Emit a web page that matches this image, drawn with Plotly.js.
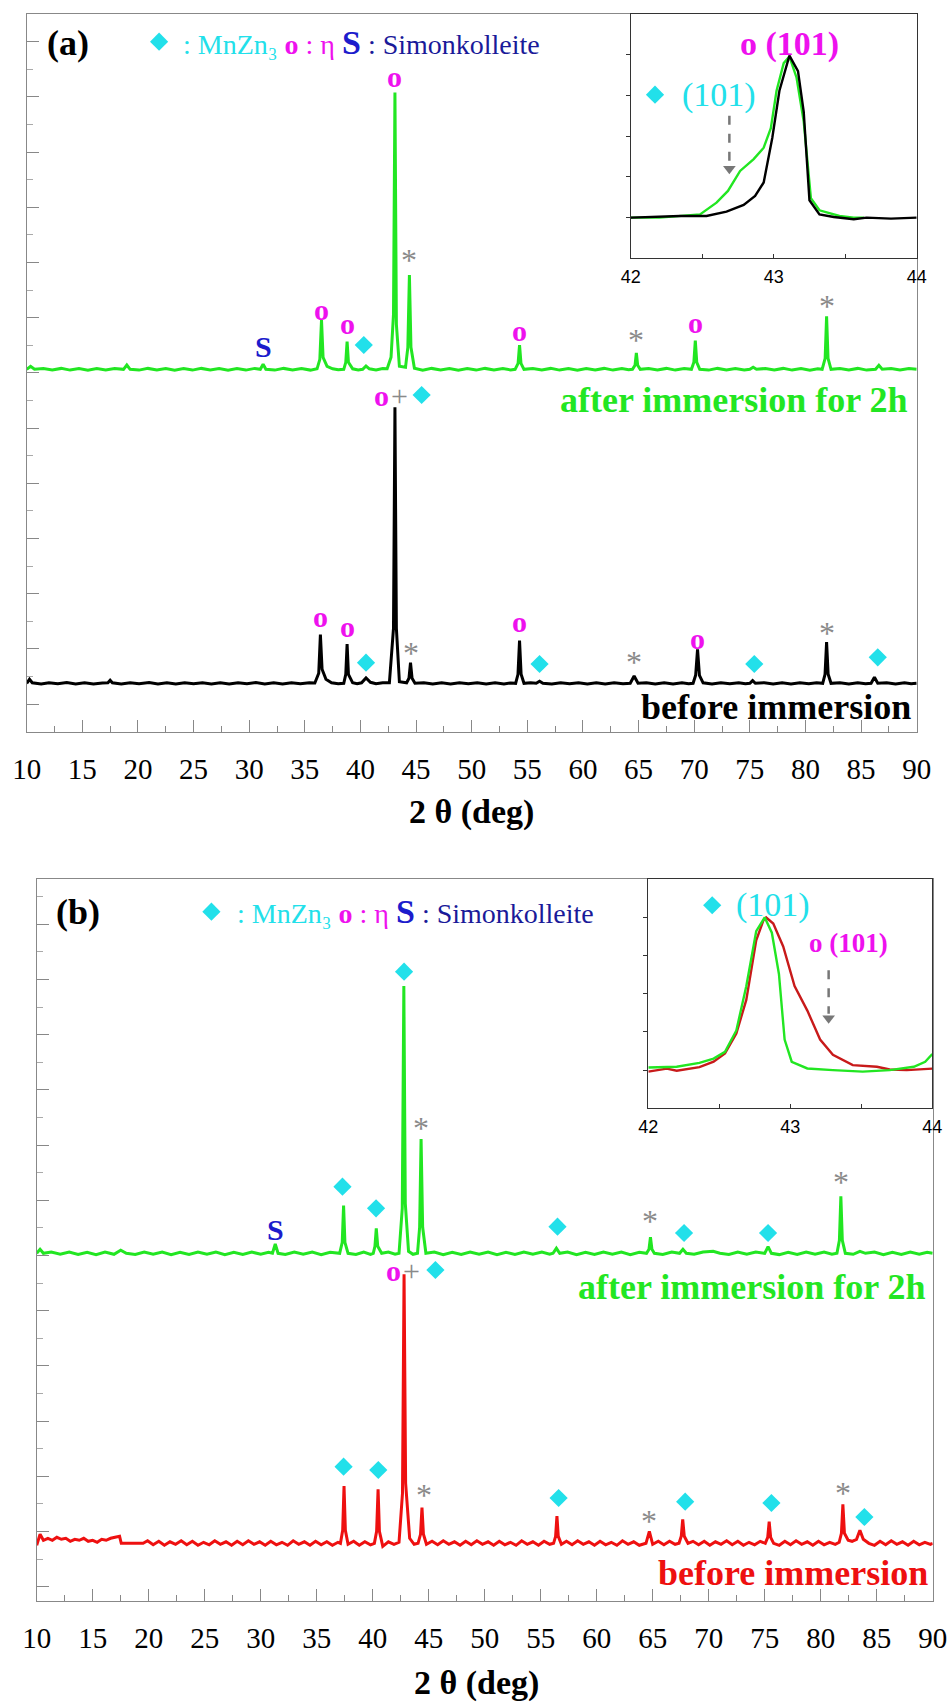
<!DOCTYPE html>
<html><head><meta charset="utf-8">
<script src="https://cdn.plot.ly/plotly-3.0.1.min.js"></script>
<style>body{margin:0;background:#fff}#chart{width:951px;height:1702px}</style>
</head><body><div id="chart"></div>
<script>
// ---------- Panel (a) : before immersion (black), intensity above baseline ----------
const A_BLACK_X = [10,10.25,10.5,11.3,12,12.8,13.6,14.4,15.2,16,16.8,17.3,17.5,17.7,18.5,19.3,20.1,21,21.8,22.6,23.4,24.2,25,25.8,26.6,27.4,28.2,29,29.8,30.6,31.4,32.2,33,33.8,34.6,35.4,35.9,36.25,36.4,36.55,36.9,37.4,38.0,38.5,38.68,38.8,38.92,39.3,39.7,40.1,40.5,40.9,41.4,42.0,42.6,42.97,43.1,43.23,43.5,44.15,44.36,44.5,44.64,44.9,45.7,46.5,47.3,48.1,48.9,49.7,50.5,51.3,52.1,52.9,53.5,53.95,54.16,54.3,54.44,54.7,55.3,55.8,56.1,56.4,57.2,58,58.8,59.6,60.4,61.2,62,62.8,63.6,64.25,64.6,64.95,65.7,66.5,67.3,68.1,68.9,69.5,69.9,70.13,70.3,70.47,70.8,71.6,72.4,73.2,74,74.6,75.0,75.25,75.5,76.3,77.1,77.9,78.7,79.5,80.3,81,81.55,81.76,81.9,82.04,82.3,83.1,83.9,84.7,85.4,85.9,86.2,86.5,87.3,88.1,88.9,89.5,90];
const A_BLACK_I = [0,4,0.5,-0.8,0.6,-0.5,0.7,-0.6,0.5,-0.7,0.4,0.5,3,0.5,-0.6,0.6,-0.5,0.7,-0.6,0.5,-0.7,0.6,-0.5,0.6,-0.6,0.5,-0.7,0.6,-0.5,0.7,-0.6,0.5,-0.6,0.6,-0.5,0.5,0.3,10,48.7,14,4,0.5,-0.5,0,9,39.3,9,0.5,-0.5,0.5,5.3,1,-0.5,0.6,0.5,55,276,55,1.5,0.5,5,20.7,5,0,0.6,-0.6,0.5,-0.6,0.6,-0.5,0.6,-0.6,0.5,-0.6,0.4,0,9,42.7,9,0,0.5,0,2,0,-0.6,0.6,-0.5,0.6,-0.6,0.5,-0.6,0.6,-0.5,0,7.3,0,0.6,-0.6,0.5,-0.6,0.6,-0.4,0,8,34,8,0.5,-0.6,0.6,-0.5,0.6,-0.5,0,2.7,0,0.6,-0.6,0.5,-0.6,0.6,-0.5,0.5,0,9,41.3,9,0,0.6,-0.6,0.5,-0.5,0,6,0,0.6,-0.6,0.5,-0.5,0];
// ---------- Panel (a) : after immersion for 2h (green) ----------
const A_GREEN_X = [10,10.35,10.7,11.5,12.3,13.1,13.9,14.7,15.5,16.3,17.1,17.9,18.7,19.0,19.3,20.1,20.9,21.7,22.5,23.3,24.1,24.9,25.7,26.5,27.3,28.1,28.9,29.7,30.5,31.0,31.25,31.5,32.3,33.1,33.9,34.7,35.5,36.1,36.35,36.5,36.64,37.0,37.5,38.0,38.5,38.68,38.8,38.92,39.3,39.8,40.2,40.5,40.8,41.4,42.0,42.4,42.75,42.97,43.1,43.23,43.5,44.05,44.26,44.4,44.54,44.85,45.6,46.4,47.2,48,48.8,49.6,50.4,51.2,52,52.8,53.5,53.9,54.17,54.3,54.43,54.7,55.5,56.3,57.1,57.9,58.7,59.5,60.3,61.1,61.9,62.7,63.5,64.1,64.45,64.68,64.8,64.92,65.15,65.9,66.7,67.5,68.3,69.1,69.75,69.97,70.1,70.23,70.5,71.3,72.1,72.9,73.7,74.5,75.0,75.3,75.6,76.4,77.2,78,78.8,79.6,80.4,81.1,81.5,81.77,81.9,82.03,82.3,83.1,83.9,84.7,85.5,86.3,86.6,86.9,87.7,88.5,89.3,90];
const A_GREEN_I = [0,3,0,0.8,-0.7,0.9,-0.8,0.7,-0.9,0.8,-0.7,0.9,0,4.3,0,-0.8,0.9,-0.7,0.8,-0.9,0.7,-0.8,0.9,-0.7,0.8,-0.9,0.7,-0.8,0.9,0,5,0,-0.8,0.9,-0.7,0.8,-0.8,0.5,10,49.3,12,3,0.5,-0.5,0,7,27.7,7,0.5,-0.6,0,3.3,0.5,-0.6,0.7,0.5,12,55,276.7,45,3,2,22,94.3,22,1,-0.8,0.9,-0.7,0.8,-0.9,0.7,-0.8,0.9,-0.7,0.8,-0.6,0,6,24.3,6,0,0.8,-0.7,0.9,-0.8,0.7,-0.9,0.8,-0.7,0.9,-0.8,0.7,-0.5,0,4,16.5,4,0,0.8,-0.7,0.9,-0.8,0.7,0,7,28.6,7,0,-0.8,0.9,-0.7,0.8,-0.6,0,2,0,0.8,-0.7,0.9,-0.8,0.7,-0.9,0.5,0,11,53,11,0,0.8,-0.7,0.9,-0.8,0,4,0,0.8,-0.7,0.9,0];
// ---------- Panel (b) : before immersion (red) ----------
const B_RED_X = [10.0,10.3,10.6,11.0,11.4,11.8,12.2,12.6,13.0,13.4,13.8,14.2,14.6,15.0,15.4,15.8,16.2,16.6,17.0,17.4,17.55,19.5,19.9,20.4,20.9,21.4,21.9,22.4,22.9,23.4,23.9,24.4,24.9,25.4,25.9,26.4,26.9,27.4,27.9,28.4,28.9,29.4,29.9,30.4,30.9,31.4,31.9,32.4,32.9,33.4,33.9,34.4,34.9,35.4,35.9,36.4,36.9,37.12,37.32,37.44,37.56,37.8,38.3,38.8,39.3,39.8,40.15,40.35,40.48,40.6,40.9,41.4,41.9,42.35,42.66,42.8,42.94,43.3,43.7,44.05,44.27,44.4,44.53,44.8,45.3,45.8,46.3,46.8,47.3,47.8,48.3,48.8,49.3,49.8,50.3,50.8,51.3,51.8,52.3,52.8,53.3,53.8,54.3,54.8,55.3,55.8,56.15,56.33,56.45,56.57,56.85,57.3,57.8,58.3,58.8,59.3,59.8,60.3,60.8,61.3,61.8,62.3,62.8,63.3,63.8,64.4,64.7,65.0,65.5,66.0,66.5,67.0,67.35,67.55,67.68,67.82,68.15,68.6,69.1,69.6,70.1,70.6,71.1,71.6,72.1,72.6,73.1,73.6,74.1,74.6,75.05,75.27,75.4,75.53,75.8,76.3,76.8,77.3,77.8,78.3,78.8,79.3,79.8,80.3,80.8,81.3,81.65,81.85,81.98,82.12,82.45,82.8,83.2,83.5,83.8,84.3,84.8,85.3,85.8,86.3,86.8,87.3,87.8,88.3,88.8,89.3,89.8,90];
const B_RED_I = [-2,9,3,5,3,6,4,5,2,4,3,5,2,3,1,4,3,5,6,7,0,0,2.5,-1.5,2,-2,1.5,-1,2.5,-1.5,2,-2,1,-1.5,2.5,-1,1.5,-2,2,-1.5,2.5,-1,1.5,-2,2,-1.5,1,-2,2.5,-1,1.5,-2,2,-1.5,1.5,-2,1,0,13,57.3,13,-1,2,-2,1.5,-1.5,0,12,54,12,-3,1.5,-1,1,50,269,60,5,-1,0,9,35.7,9,-1,2,-1.5,2.5,-1,1.5,-2,2,-1.5,2.5,-1,1.5,-2,2,-1.5,1,-2,2.5,-1,1.5,-2,2,-1,0,7,27.3,7,-1,2,-1.5,2.5,-1,1.5,-2,2,-1.5,1,-2,2.5,-1,1.5,-2,0,12,-1,2,-1.5,2,-1,0,7,24,7,0,2,-1.5,2,-2,1.5,-1,2.5,-1.5,2,-2,1,-1.5,2,0,6,21.7,6,0,-2,2,-1.5,2.5,-1,1.5,-2,2,-1.5,1,-1,1,10,39,10,3,2,4,13,4,0,-2,2,-1.5,2.5,-1,1.5,-2,2,-1.5,1,-1,0];
// ---------- Panel (b) : after immersion for 2h (green) ----------
const B_GREEN_X = [10,10.3,10.6,11.3,12.1,12.9,13.7,14.5,15.3,16.1,16.9,17.5,18,18.8,19.6,20.4,21.2,22,22.8,23.6,24.4,25.2,26,26.8,27.6,28.4,29.2,30,30.7,31.05,31.3,31.55,32.2,33,33.8,34.6,35.4,36.2,37.05,37.28,37.4,37.52,37.8,38.5,39.2,39.8,40.05,40.2,40.32,40.45,40.8,41.4,42.0,42.35,42.64,42.78,42.91,43.2,43.6,44.0,44.19,44.32,44.46,44.75,45.5,46.3,47.1,47.9,48.7,49.5,50.3,51.1,51.9,52.7,53.5,54.3,55.1,55.8,56.1,56.4,56.7,57.4,58.2,59,59.8,60.6,61.4,62.2,63,63.8,64.45,64.67,64.8,64.93,65.15,65.9,66.7,67.4,67.7,68,68.7,69.5,70.4,71,71.8,72.6,73.4,74.2,75.0,75.3,75.6,76.3,77.1,77.9,78.7,79.5,80.3,81.0,81.45,81.67,81.8,81.93,82.2,82.9,83.5,84,84.8,85.6,86.4,87.2,88,88.8,89.5,90];
const B_GREEN_I = [0,4,0,1.2,-1,1.3,-1.2,1,-1.3,1.2,-1,3,0,-1.2,1.3,-1,1.2,-1.3,1,-1.2,1.3,-1,1.2,-1.3,1,-1.2,1.3,-1,1,0,9.3,0,-1.2,1.3,-1,1.2,-1.3,1,0,11,47.7,11,0,-1.2,1.3,-1,0,7,25,7,0,1.2,-1,0,45,267.3,50,2,-1,0,26,114.3,26,0,1.2,-1.3,1,-1.2,1.3,-1,1.2,-1.3,1,-1.2,1.3,-1,1.2,-1,0,5,0,1.2,-1.3,1,-1.2,1.3,-1,1.2,-1.3,1,0,4,16,4,0,-1.2,1.3,0,4,0,-1,1.2,2,0,-1.2,1.3,-1,1.2,0,6.7,0,-1.3,1,-1.2,1.3,-1,1.2,-1,0,13,57,13,0,-1,2,0,1.2,-1.3,1,-1.2,1.3,-1,1,0];

// ---------- Insets (normalised intensity vs 2θ, 42–44°) ----------
const INA_BLACK_X = [42.0,42.345,42.53,42.67,42.79,42.87,42.93,42.99,43.04,43.08,43.11,43.17,43.21,43.25,43.32,43.42,43.56,43.65,43.82,44.0];
const INA_BLACK_Y = [0,0.01,0.01,0.037,0.078,0.133,0.216,0.49,0.78,0.91,0.996,0.90,0.65,0.107,0.02,0.004,-0.01,0,-0.006,0];
const INA_GREEN_X = [42.0,42.2,42.485,42.6,42.68,42.765,42.86,42.93,42.98,43.02,43.07,43.11,43.16,43.21,43.26,43.32,43.46,43.56,43.63];
const INA_GREEN_Y = [0,0,0.02,0.092,0.164,0.287,0.36,0.43,0.55,0.78,0.95,0.99,0.86,0.59,0.12,0.045,0.01,0,0];
const INB_RED_X = [42.0,42.13,42.2,42.36,42.46,42.54,42.62,42.69,42.76,42.81,42.83,42.88,42.95,43.03,43.12,43.21,43.30,43.44,43.61,43.70,43.82,44.0];
const INB_RED_Y = [-0.01,0.01,-0.004,0.02,0.055,0.11,0.24,0.46,0.85,0.98,1.0,0.96,0.81,0.55,0.39,0.2,0.1,0.033,0.022,0.004,0,0.01];
const INB_GREEN_X = [42.0,42.2,42.36,42.46,42.54,42.62,42.69,42.76,42.82,42.87,42.92,42.96,43.01,43.12,43.30,43.51,43.70,43.87,43.95,44.0];
const INB_GREEN_Y = [0.017,0.022,0.048,0.076,0.12,0.26,0.55,0.91,1.0,0.9,0.63,0.2,0.055,0.011,0,-0.01,0,0.022,0.055,0.105];

// ---------- Peak labels [2θ, level] ----------
const A_ETA = [[36.4,115],[38.8,105],[54.3,110],[70.3,93.4],[36.5,422.4],[38.8,408.4],[43.1,655.7],[54.3,401],[70.1,409.7],[41.9,336.7]];
const A_MNZN = [[40.5,69],[56.1,67.7],[75.4,67.7],[86.5,74.4],[40.3,386.7],[45.5,336.7]];
const A_STAR = [[44.5,85],[64.6,75.7],[81.9,105],[44.4,477.7],[64.8,397.7],[81.9,431.7]];
const A_PLUS = [[43.5,336.7]];
const A_SIMON = [[31.3,385]];
const B_ETA = [[41.9,330.7]];
const B_MNZN = [[37.4,134],[40.5,130.7],[56.6,102.7],[67.9,99],[75.6,97.7],[83.9,83.7],[45.6,330.7],[37.3,414],[40.3,392.4],[42.8,629],[56.5,374],[67.8,367.7],[75.3,367.7]];
const B_STAR = [[44.6,111.7],[64.7,85.7],[82,114],[44.3,479],[64.8,385.7],[81.8,424.7]];
const B_PLUS = [[43.5,330.7]];
const B_SIMON = [[31.3,371.4]];
const X_TICKS = [10,15,20,25,30,35,40,45,50,55,60,65,70,75,80,85,90];

// ---------- styling / layout constants ----------
const W = 951, H = 1702;
const OFF = {aBlack:48.4, aGreen:362.4, bRed:57.4, bGreen:347.4};
const C = {green:'#22e622', black:'#000000', red:'#ee1010', red2:'#c81a1a', cyan:'#22e0ea', mag:'#ee11ee', gray:'#8a8a8a', blue:'#1c1ccc', navy:'#1a1a99'};
const SERIF = 'Liberation Serif, Times New Roman, serif';
const SANS = 'Liberation Sans, Arial, sans-serif';
const px = (v) => v / W;
const py = (v) => 1 - v / H;

function add(arr, c) { return arr.map(v => v + c); }
function line(x, y, xa, ya, color, w) {
  return {type:'scatter', mode:'lines', x:x, y:y, xaxis:xa, yaxis:ya, line:{color:color, width:w}, hoverinfo:'skip'};
}
function diamonds(list, xa, ya) {
  return {type:'scatter', mode:'markers', x:list.map(p=>p[0]), y:list.map(p=>p[1]), xaxis:xa, yaxis:ya,
    marker:{symbol:'diamond', size:14, color:C.cyan, line:{width:0}}, hoverinfo:'skip'};
}
function txt(xr, yr, x, y, text, size, color, extra) {
  return Object.assign({xref:xr, yref:yr, x:x, y:y, text:text, showarrow:false,
    font:{family:SERIF, size:size, color:color}, xanchor:'center', yanchor:'middle'}, extra || {});
}

const traces = [
  line(A_BLACK_X, add(A_BLACK_I, OFF.aBlack), 'x', 'y', C.black, 3),
  line(A_GREEN_X, add(A_GREEN_I, OFF.aGreen), 'x', 'y', C.green, 3),
  line(INA_GREEN_X, INA_GREEN_Y, 'x2', 'y2', C.green, 2.4),
  line(INA_BLACK_X, INA_BLACK_Y, 'x2', 'y2', C.black, 2.4),
  line(B_RED_X, add(B_RED_I, OFF.bRed), 'x3', 'y3', C.red, 3),
  line(B_GREEN_X, add(B_GREEN_I, OFF.bGreen), 'x3', 'y3', C.green, 3),
  line(INB_RED_X, INB_RED_Y, 'x4', 'y4', C.red2, 2.4),
  line(INB_GREEN_X, INB_GREEN_Y, 'x4', 'y4', C.green, 2.4),
  diamonds(A_MNZN.concat([[21.9,690]]), 'x', 'y'),
  diamonds(B_MNZN.concat([[25.6,689]]), 'x3', 'y3'),
  diamonds([[42.17,0.756]], 'x2', 'y2'),
  diamonds([[42.45,1.08]], 'x4', 'y4'),
  {type:'scatter', mode:'markers', x:[42.69], y:[0.30], xaxis:'x2', yaxis:'y2', marker:{symbol:'triangle-down', size:11, color:'#777'}, hoverinfo:'skip'},
  {type:'scatter', mode:'markers', x:[43.27], y:[0.34], xaxis:'x4', yaxis:'y4', marker:{symbol:'triangle-down', size:11, color:'#777'}, hoverinfo:'skip'}
];

const annotations = [];
function labels(list, xr, yr, text, size, color, extra) {
  list.forEach(p => annotations.push(txt(xr, yr, p[0], p[1], text, size, color, extra)));
}
labels(A_ETA, 'x', 'y', '<b>o</b>', 30, C.mag);
labels(A_STAR, 'x', 'y', '*', 32, C.gray, {yshift:-6});
labels(A_PLUS, 'x', 'y', '+', 30, C.gray);
labels(A_SIMON, 'x', 'y', '<b>S</b>', 30, C.blue);
labels(B_ETA, 'x3', 'y3', '<b>o</b>', 30, C.mag);
labels(B_STAR, 'x3', 'y3', '*', 32, C.gray, {yshift:-6});
labels(B_PLUS, 'x3', 'y3', '+', 30, C.gray);
labels(B_SIMON, 'x3', 'y3', '<b>S</b>', 30, C.blue);

const legendText = '<span style="color:' + C.cyan + '">: MnZn\u2083\u00a0</span>' +
  '<span style="color:' + C.mag + '"><b>o</b> : η\u00a0</span>' +
  '<span style="color:' + C.blue + ';font-size:34px"><b>S</b></span>' +
  '<span style="color:' + C.navy + '">\u00a0: Simonkolleite</span>';
annotations.push(txt('paper','paper', px(181), py(42), legendText, 28, C.navy, {xanchor:'left'}));
annotations.push(txt('paper','paper', px(235), py(911.7), legendText, 28, C.navy, {xanchor:'left'}));
annotations.push(txt('paper','paper', px(68), py(43), '<b>(a)</b>', 36, '#000'));
annotations.push(txt('paper','paper', px(78), py(911.7), '<b>(b)</b>', 36, '#000'));
annotations.push(txt('x','y', 89.4, 331.7, '<b>after immersion for 2h</b>', 36, C.green, {xanchor:'right'}));
annotations.push(txt('x','y', 89.7, 25, '<b>before immersion</b>', 36, '#000', {xanchor:'right'}));
annotations.push(txt('x3','y3', 89.6, 314, '<b>after immersion for 2h</b>', 36, C.green, {xanchor:'right'}));
annotations.push(txt('x3','y3', 89.8, 27.7, '<b>before immersion</b>', 36, C.red, {xanchor:'right'}));
annotations.push(txt('paper','paper', px(471.7), py(812), '<b>2 θ (deg)</b>', 34, '#000'));
annotations.push(txt('paper','paper', px(476), py(1683), '<b>2 θ (deg)</b>', 34, '#000'));
annotations.push(txt('x2','y2', 43.11, 1.07, '<b>o (101)</b>', 34, C.mag));
annotations.push(txt('x2','y2', 42.62, 0.756, '(101)', 34, C.cyan));
annotations.push(txt('x4','y4', 42.88, 1.08, '(101)', 34, C.cyan));
annotations.push(txt('x4','y4', 43.41, 0.83, '<b>o (101)</b>', 27, C.mag));

const shapes = [
  {type:'line', xref:'x2', yref:'y2', x0:42.69, x1:42.69, y0:0.626, y1:0.33, line:{color:'#777', width:2.5, dash:'dash'}},
  {type:'line', xref:'x4', yref:'y4', x0:43.27, x1:43.27, y0:0.655, y1:0.37, line:{color:'#777', width:2.5, dash:'dash'}}
];

function mainX(domain, anchor) {
  return {domain:domain, anchor:anchor, range:[10,90], tickmode:'array', tickvals:X_TICKS, ticktext:X_TICKS.map(String),
    ticks:'inside', ticklen:12, tickwidth:1, tickcolor:'#888',
    minor:{dtick:2.5, tick0:10, ticks:'inside', ticklen:6, tickcolor:'#888'},
    showline:true, mirror:true, linecolor:'#888', linewidth:1, showgrid:false, zeroline:false,
    tickfont:{family:SERIF, size:29, color:'#000'}, ticklabelstandoff:11, fixedrange:true};
}
function mainY(domain, anchor, top, t0) {
  return {domain:domain, anchor:anchor, range:[0, top], tick0:t0, dtick:55.2, ticks:'inside', ticklen:12, tickcolor:'#888',
    minor:{dtick:27.6, tick0:t0, ticks:'inside', ticklen:6, tickcolor:'#aaa'},
    showticklabels:false, showline:true, mirror:true, linecolor:'#888', linewidth:1, showgrid:false, zeroline:false};
}
function insetX(domain, anchor) {
  return {domain:domain, anchor:anchor, range:[42,44], tickvals:[42,43,44], ticks:'inside', ticklen:4, tickcolor:'#333',
    minor:{dtick:0.5, ticks:'inside', ticklen:4, tickcolor:'#333'},
    showline:true, mirror:true, linecolor:'#333', linewidth:1, showgrid:false, zeroline:false,
    tickfont:{family:SANS, size:18, color:'#000'}, ticklabelstandoff:2};
}
function insetY(domain, anchor) {
  return {domain:domain, anchor:anchor, range:[-0.25,1.25], tickvals:[0,0.25,0.5,0.75,1], ticks:'outside', ticklen:4, tickcolor:'#333',
    showticklabels:false, showline:true, mirror:true, linecolor:'#333', linewidth:1, showgrid:false, zeroline:false};
}

const layout = {
  width:W, height:H, margin:{l:0,r:0,t:0,b:0}, paper_bgcolor:'#fff', plot_bgcolor:'rgba(0,0,0,0)', showlegend:false,
  xaxis: mainX([px(26.7), px(916.7)], 'y'),
  yaxis: mainY([py(731.7), py(14.3)], 'x', 717.4, 27.7),
  xaxis2: insetX([px(630.7), px(916.7)], 'y2'),
  yaxis2: insetY([py(258.3), py(14.3)], 'x2'),
  xaxis3: mainX([px(36.7), px(932.7)], 'y3'),
  yaxis3: mainY([py(1600.7), py(879.3)], 'x3', 721.4, 14),
  xaxis4: insetX([px(648.3), px(932.3)], 'y4'),
  yaxis4: insetY([py(1108.3), py(879.3)], 'x4'),
  annotations: annotations,
  shapes: shapes
};

Plotly.newPlot('chart', traces, layout, {staticPlot:true, displayModeBar:false});
</script></body></html>
